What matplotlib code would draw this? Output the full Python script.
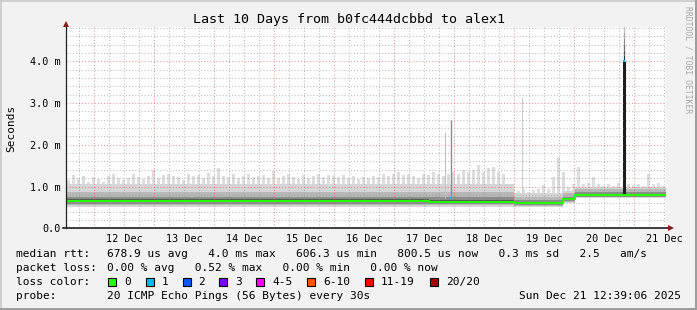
import datetime
import matplotlib
matplotlib.use('Agg')
from matplotlib import pyplot as plt
from matplotlib.lines import Line2D
from matplotlib.patches import Rectangle
import matplotlib.dates as mdates

t0 = datetime.datetime(2025, 12, 11, 12, 39, 6)
t_end = datetime.datetime(2025, 12, 21, 12, 39, 6)

# top of the light smoke, one value per 2 hour bin (ms)
smoke_top = [1.15, 1.28, 1.20, 1.25, 1.10, 1.22, 1.18, 1.12, 1.25, 1.30, 1.20, 1.15,
             1.20, 1.30, 1.22, 1.18, 1.25, 1.40, 1.20, 1.28, 1.30, 1.25, 1.22, 1.15,
             1.30, 1.25, 1.28, 1.20, 1.32, 1.25, 1.45, 1.25, 1.22, 1.30, 1.20, 1.25,
             1.30, 1.22, 1.25, 1.28, 1.20, 1.38, 1.20, 1.25, 1.30, 1.22, 1.18, 1.28,
             1.20, 1.25, 1.30, 1.22, 1.28, 1.25, 1.22, 1.28, 1.20, 1.25, 1.18, 1.22,
             1.20, 1.25, 1.22, 1.30, 1.25, 1.30, 1.35, 1.28, 1.30, 1.25, 1.20, 1.30,
             1.28, 1.35, 1.30, 1.25, 1.30, 1.35, 1.30, 1.40, 1.35, 1.40, 1.52, 1.35,
             1.45, 1.47, 1.35, 1.30, 1.05, 0.95, 0.90, 0.95, 0.88, 0.92, 0.95, 1.04,
             0.95, 1.23, 1.70, 1.35, 1.00, 1.05, 1.47, 1.05, 1.08, 1.22, 1.05, 1.02,
             1.05, 1.02, 1.08, 1.00, 1.05, 1.03, 1.05, 1.02, 1.30, 1.05, 1.08, 1.02]

# steady stretches, hours after t0, and the smoke bands inside them (ms)
seg_hours = [0, 145, 179.2, 198.8, 203.6, 240]
median = [0.65, 0.635, 0.61, 0.69, 0.80]
light_lo = [0.52, 0.52, 0.50, 0.60, 0.72]
dense_hi = [1.06, 1.06, 0.84, 0.90, 0.98]
mid_lo = [0.56, 0.55, 0.53, 0.63, 0.74]
mid_hi = [0.88, 0.86, 0.74, 0.84, 0.93]
dark_lo = [0.59, 0.58, 0.56, 0.65, 0.76]
dark_hi = [0.76, 0.74, 0.68, 0.76, 0.88]
core_lo = [0.62, 0.61, 0.58, 0.67, 0.78]
core_hi = [0.69, 0.67, 0.64, 0.72, 0.83]

# single outliers
spike_hours = [151.6, 153.8, 182.3, 223.2]
spike_lo = [0.72, 0.70, 0.80, 0.82]
spike_hi = [2.30, 2.60, 3.15, 4.00]
loss1_hours = [153.8, 223.2]
loss1_ms = [0.73, 4.00]

loss_labels = ['0', '1', '2', '3', '4-5', '6-10', '11-19', '20/20']
loss_colors = ['#26ff00', '#00b8ff', '#0059ff', '#7e00ff', '#ff00ff', '#ff5500', '#ff0000', '#a10000']

W, H = 697, 310
MONO = 'DejaVu Sans Mono'


def at(h):
    return t0 + datetime.timedelta(hours=h)


def fx(px):
    return px / W


def fy(py):
    return 1 - py / H


def ext(v):
    return list(v) + [v[-1]]


fig = plt.figure(figsize=(W / 100, H / 100), dpi=100, facecolor='#f2f2f2')
left, right, top, bottom = 66, 666, 27, 228.3
ax = fig.add_axes([fx(left), fy(bottom), (right - left) / W, (bottom - top) / H])
ax.set_facecolor('white')

segs = [at(h) for h in seg_hours]

# light smoke: thin columns reaching the per-bin top
bin_w = datetime.timedelta(hours=1.5)
for i, v in enumerate(smoke_top):
    ax.bar(at(2 * i + 0.25), v - 0.85, bottom=0.85, width=bin_w, align='edge',
           color='#dedede', lw=0, zorder=1)
ax.fill_between(segs, ext(light_lo), ext(dense_hi), step='post', color='#d6d6d6', lw=0, zorder=1.1)
ax.fill_between(segs, ext(mid_lo), ext(mid_hi), step='post', color='#b8b8b8', lw=0, zorder=1.2)
ax.fill_between(segs, ext(dark_lo), ext(dark_hi), step='post', color='#8c8c8c', lw=0, zorder=1.3)
ax.fill_between(segs, ext(core_lo), ext(core_hi), step='post', color='#555555', lw=0, zorder=1.4)

spike_cols = ['#c4c4c4', '#8c8c8c', '#cccccc', '#1e1e1e']
spike_lw = [0.8, 1.0, 0.8, 2.2]
for h, lo, hi, c, lw in zip(spike_hours, spike_lo, spike_hi, spike_cols, spike_lw):
    ax.vlines(at(h), lo, hi, color=c, lw=lw, zorder=2)
# fading tail above the big spike
tail = ['#3a3a3a', '#555555', '#707070', '#8a8a8a', '#a5a5a5', '#c0c0c0']
for k, c in enumerate(tail):
    ax.vlines(at(spike_hours[-1]), 4.0 + k * 0.14, 4.0 + (k + 1) * 0.14, color=c, lw=0.9, zorder=2)

# grid
d = datetime.datetime(2025, 12, 11, 18, 0)
while d < t_end:
    if d.hour == 0:
        ax.axvline(d, color=(0.87, 0.31, 0.31, 0.6), lw=0.75, ls=(0, (1, 2)), zorder=3)
    else:
        ax.axvline(d, color=(0.56, 0.56, 0.56, 0.6), lw=0.75, ls=(0, (1, 2)), zorder=3)
    d += datetime.timedelta(hours=6)
for k in range(1, 25):
    v = k * 0.2
    if k % 5 == 0:
        ax.axhline(v, color=(0.87, 0.31, 0.31, 0.6), lw=0.75, ls=(0, (1, 2)), zorder=3)
    else:
        ax.axhline(v, color=(0.56, 0.56, 0.56, 0.6), lw=0.75, ls=(0, (1, 2)), zorder=3)

ax.step(segs, ext(median), where='post', color=loss_colors[0], lw=1.5, zorder=4)
ax.plot([at(h) for h in loss1_hours], loss1_ms, 's', ms=1.6, color=loss_colors[1], mew=0, zorder=5)

ax.set_xlim(t0, t_end)
ax.set_ylim(0, 4.82)
ax.set_xticks([datetime.datetime(2025, 12, day, 12, 0) for day in range(12, 22)])
ax.xaxis.set_major_formatter(mdates.DateFormatter('%d %b'))
ax.set_yticks([0, 1, 2, 3, 4])
ax.set_yticklabels(['0.0', '1.0 m', '2.0 m', '3.0 m', '4.0 m'])
ax.tick_params(length=0, labelsize=7.3, pad=4)
for lab in ax.get_xticklabels() + ax.get_yticklabels():
    lab.set_family(MONO)
for s in ['top', 'right', 'left', 'bottom']:
    ax.spines[s].set_visible(False)

# axes lines and arrows
fig.add_artist(Line2D([fx(left), fx(left)], [fy(bottom), fy(23)], color='#1f1f1f', lw=0.9))
fig.add_artist(Line2D([fx(left - 3), fx(670)], [fy(bottom), fy(bottom)], color='#1f1f1f', lw=1.2))
fig.add_artist(Line2D([fx(left)], [fy(24)], marker='^', ms=4, color='#801f1f', mew=0))
fig.add_artist(Line2D([fx(671)], [fy(bottom)], marker='>', ms=4, color='#801f1f', mew=0))

# frame shading
fig.add_artist(Rectangle((0, fy(2)), 1, 2 / H, color='#cfcfcf', lw=0))
fig.add_artist(Rectangle((0, 0), 2 / W, 1, color='#cfcfcf', lw=0))
fig.add_artist(Rectangle((0, 0), 1, 2 / H, color='#9e9e9e', lw=0))
fig.add_artist(Rectangle((1 - 2 / W, 0), 2 / W, 1, color='#9e9e9e', lw=0))

fig.text(fx(349), fy(19), 'Last 10 Days from b0fc444dcbbd to alex1', family=MONO, size=9.6,
         ha='center', va='center')
fig.text(fx(11), fy(128), 'Seconds', family=MONO, size=8, rotation=90, ha='center', va='center')
fig.text(fx(688), fy(6), 'RRDTOOL / TOBI OETIKER', family=MONO, size=5.8, rotation=270,
         ha='center', va='top', color='#a8a8a8')

fs = 8
fig.text(fx(16), fy(254), 'median rtt:', family=MONO, size=fs, va='center')
fig.text(fx(107), fy(254), '678.9 us avg   4.0 ms max   606.3 us min   800.5 us now   0.3 ms sd   2.5   am/s',
         family=MONO, size=fs, va='center')
fig.text(fx(16), fy(268), 'packet loss:', family=MONO, size=fs, va='center')
fig.text(fx(107), fy(268), '0.00 % avg   0.52 % max   0.00 % min   0.00 % now',
         family=MONO, size=fs, va='center')
fig.text(fx(16), fy(282), 'loss color:', family=MONO, size=fs, va='center')
box_x = [108, 145.5, 182.5, 219, 256, 307, 365, 430]
for bx, lab, c in zip(box_x, loss_labels, loss_colors):
    fig.add_artist(Rectangle((fx(bx), fy(286)), 8 / W, 8 / H, facecolor=c, edgecolor='black', lw=0.8))
    fig.text(fx(bx + 16), fy(282), lab, family=MONO, size=fs, va='center')
fig.text(fx(16), fy(296), 'probe:', family=MONO, size=fs, va='center')
fig.text(fx(107), fy(296), '20 ICMP Echo Pings (56 Bytes) every 30s', family=MONO, size=fs, va='center')
fig.text(fx(681), fy(296), 'Sun Dec 21 12:39:06 2025', family=MONO, size=fs, va='center', ha='right')

fig.savefig('out.png', dpi=100, facecolor=fig.get_facecolor())
